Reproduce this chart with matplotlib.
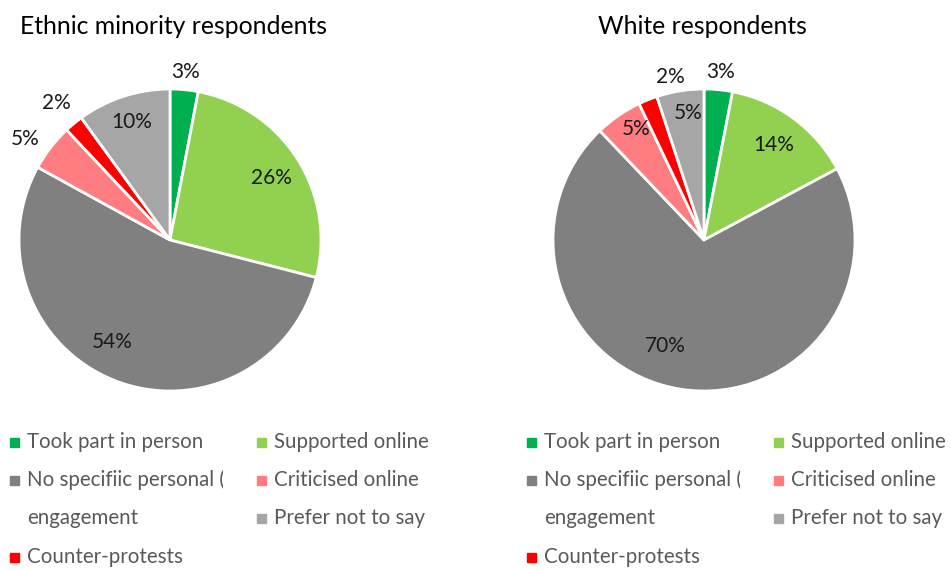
import matplotlib
matplotlib.use('Agg')
from matplotlib import pyplot as plt
from matplotlib.transforms import Bbox
import numpy as np

categories = ['Took part in person', 'Supported online', 'No specifiic personal (',
              'Criticised online', 'Counter-protests', 'Prefer not to say']
minority = [3, 26, 54, 5, 2, 10]
white = [3, 14, 70, 5, 2, 5]
titles = ['Ethnic minority respondents', 'White respondents']
colors = ['#00B050', '#92D050', '#808080', '#FF7C80', '#FF0000', '#A6A6A6']

# label placement (radial distance, angle tweak in degrees)
min_dist = [1.12, 0.79, 0.78, 1.17, 1.18, 0.82]
min_shift = [0, -1, -8, 3, 0, 0]
white_dist = [1.12, 0.78, 0.75, 0.86, 1.10, 0.85]
white_shift = [0, 0, -11, -3, -10, -2]

plt.rcParams['font.family'] = ['Lato', 'DejaVu Sans']

W, H = 951, 570
fig = plt.figure(figsize=(W / 100, H / 100), dpi=100)
R = 151


def draw_pie(cx, cy, values, dist, shift):
    ax = fig.add_axes([(cx - R) / W, (H - cy - R) / H, 2 * R / W, 2 * R / H])
    wedges, _ = ax.pie(values, colors=colors, startangle=90, counterclock=False,
                       radius=1, wedgeprops=dict(edgecolor='white', linewidth=2))
    for w, v, d, s in zip(wedges, values, dist, shift):
        ang = np.deg2rad((w.theta1 + w.theta2) / 2 + s)
        ax.text(d * np.cos(ang), d * np.sin(ang), f'{v}%', ha='center', va='center',
                fontsize=15, color='#1a1a1a', clip_on=False)
    ax.set_xlim(-1, 1)
    ax.set_ylim(-1, 1)
    ax.set_aspect('equal')
    ax.axis('off')


draw_pie(170, 240, minority, min_dist, min_shift)
draw_pie(704, 240, white, white_dist, white_shift)

fig.text(20 / W, 1 - 26 / H, titles[0], fontsize=17.8, va='center', ha='left')
fig.text(598 / W, 1 - 26 / H, titles[1], fontsize=17.8, va='center', ha='left')


def legend(x0, x1):
    # x0, x1: where the text of each legend column starts
    rows = [442, 480, 518, 557]
    # (category index, column x, row y)
    slots = [(0, x0, rows[0]), (1, x1, rows[0]), (2, x0, rows[1]),
             (3, x1, rows[1]), (5, x1, rows[2]), (4, x0, rows[3])]
    for i, x, y in slots:
        fig.patches.append(plt.Rectangle(((x - 17) / W, 1 - (y + 5) / H), 9 / W, 9 / H,
                                         transform=fig.transFigure, color=colors[i]))
        t = fig.text(x / W, 1 - y / H, categories[i], fontsize=14.8,
                     color='#595959', va='center', ha='left')
        if i == 2:
            t.set_clip_box(Bbox([[x - 20, 0], [x + 196, H]]))
            t.set_clip_on(True)
            fig.text(x / W, 1 - rows[2] / H, 'engagement', fontsize=14.8,
                     color='#595959', va='center', ha='left')


legend(27, 274)
legend(544, 791)

fig.savefig('out.png', dpi=100)
